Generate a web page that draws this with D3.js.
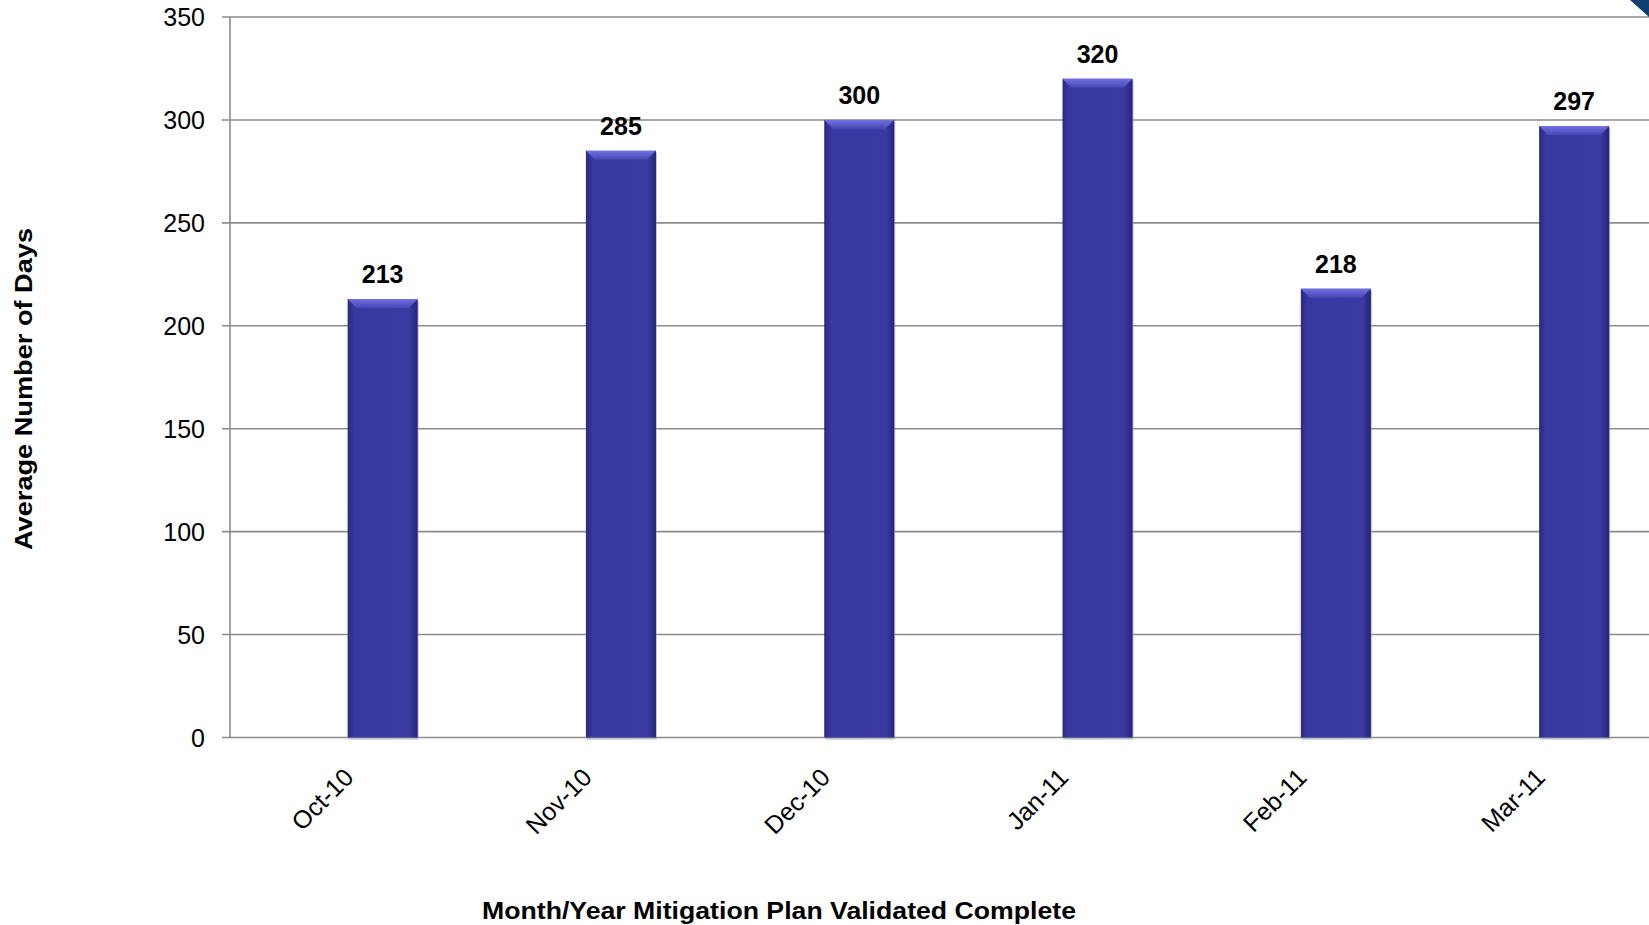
<!DOCTYPE html>
<html>
<head>
<meta charset="utf-8">
<script src="https://cdn.jsdelivr.net/npm/d3@7"></script>
<style>
  body { margin: 0; background: #fff; }
  svg { display: block; font-family: "Liberation Sans", Arial, sans-serif; }
</style>
</head>
<body>
<div id="chart"></div>
<script>
// chart data
var months = ["Oct-10", "Nov-10", "Dec-10", "Jan-11", "Feb-11", "Mar-11"];
var avgDays = [213, 285, 300, 320, 218, 297];
var yTicks = [0, 50, 100, 150, 200, 250, 300, 350];

var width = 1649, height = 925;
var axisX = 230;

var svg = d3.select("#chart").append("svg")
    .attr("width", width)
    .attr("height", height);

//bar gradients (bevelled look)
var defs = svg.append("defs");
var side = defs.append("linearGradient").attr("id", "barSide")
    .attr("x1", "0").attr("x2", "1").attr("y1", "0").attr("y2", "0");
side.append("stop").attr("offset", "0").attr("stop-color", "#2a2a84");
side.append("stop").attr("offset", "0.1").attr("stop-color", "#3838a0");
side.append("stop").attr("offset", "0.88").attr("stop-color", "#3a3aa2");
side.append("stop").attr("offset", "1").attr("stop-color", "#25257a");

var topBev = defs.append("linearGradient").attr("id", "barTop")
    .attr("x1", "0").attr("x2", "0").attr("y1", "0").attr("y2", "1");
topBev.append("stop").attr("offset", "0").attr("stop-color", "#7070e2");
topBev.append("stop").attr("offset", "1").attr("stop-color", "#4646b4");

//scales
var y = d3.scaleLinear().domain([0, 350]).range([737.5, 17]);
var x = d3.scaleBand().domain(months)
    .range([263.5, 263.5 + 6 * 238.3])
    .paddingInner(0.706)
    .paddingOuter(0.353);

//gridlines
svg.append("g").selectAll("line")
    .data(yTicks)
  .enter().append("line")
    .attr("x1", axisX - 8)
    .attr("x2", width)
    .attr("y1", function(d) { return y(d); })
    .attr("y2", function(d) { return y(d); })
    .attr("stroke", "#8c8c8c")
    .attr("stroke-width", 1.6);

//y axis line
svg.append("line")
    .attr("x1", axisX).attr("x2", axisX)
    .attr("y1", y(350)).attr("y2", y(0))
    .attr("stroke", "#8c8c8c")
    .attr("stroke-width", 1.6);

//y tick labels
svg.append("g").selectAll("text")
    .data(yTicks)
  .enter().append("text")
    .attr("x", axisX - 25)
    .attr("y", function(d) { return y(d); })
    .attr("dy", "0.36em")
    .attr("text-anchor", "end")
    .attr("font-size", 25)
    .attr("fill", "#000")
    .text(function(d) { return d; });

//bars
var bars = svg.append("g").selectAll("g")
    .data(months)
  .enter().append("g");

bars.append("rect")
    .attr("x", function(d) { return x(d) + 1; })
    .attr("y", function(d, i) { return y(avgDays[i]) + 2; })
    .attr("width", x.bandwidth())
    .attr("height", function(d, i) { return y(0) - y(avgDays[i]); })
    .attr("fill", "#9a9aa8")
    .attr("opacity", 0.6);

bars.append("rect")
    .attr("x", function(d) { return x(d); })
    .attr("y", function(d, i) { return y(avgDays[i]); })
    .attr("width", x.bandwidth())
    .attr("height", function(d, i) { return y(0) - y(avgDays[i]); })
    .attr("fill", "url(#barSide)");

bars.append("path")
    .attr("d", function(d, i) {
      var x0 = x(d), x1 = x(d) + x.bandwidth(), t = y(avgDays[i]), b = 9;
      return "M" + x0 + "," + t + "L" + x1 + "," + t +
             "L" + (x1 - b) + "," + (t + b) + "L" + (x0 + b) + "," + (t + b) + "Z";
    })
    .attr("fill", "url(#barTop)");

//value labels
bars.append("text")
    .attr("x", function(d) { return x(d) + x.bandwidth() / 2; })
    .attr("y", function(d, i) { return y(avgDays[i]) - 16; })
    .attr("text-anchor", "middle")
    .attr("font-size", 25)
    .attr("font-weight", "bold")
    .attr("fill", "#000")
    .text(function(d, i) { return avgDays[i]; });

//x tick labels
svg.append("g").selectAll("text")
    .data(months)
  .enter().append("text")
    .attr("transform", function(d) {
      return "translate(" + (x(d) + x.bandwidth() / 2 - 34) + "," + (y(0) + 35) + ") rotate(-45)";
    })
    .attr("text-anchor", "end")
    .attr("dy", "0.36em")
    .attr("font-size", 25)
    .attr("fill", "#000")
    .text(function(d) { return d; });

//axis titles (stretched a bit, like the original)
svg.append("text")
    .attr("transform", "translate(32,389) rotate(-90)")
    .attr("text-anchor", "middle")
    .attr("font-size", 24)
    .attr("font-weight", "bold")
    .attr("textLength", 322)
    .attr("lengthAdjust", "spacingAndGlyphs")
    .text("Average Number of Days");

svg.append("text")
    .attr("x", 779)
    .attr("y", 919)
    .attr("text-anchor", "middle")
    .attr("font-size", 24)
    .attr("font-weight", "bold")
    .attr("textLength", 594)
    .attr("lengthAdjust", "spacingAndGlyphs")
    .text("Month/Year Mitigation Plan Validated Complete");

//corner decoration
svg.append("path")
    .attr("d", "M1630,0L1649,0L1649,17Z")
    .attr("fill", "#0e3f6e");
</script>
</body>
</html>
